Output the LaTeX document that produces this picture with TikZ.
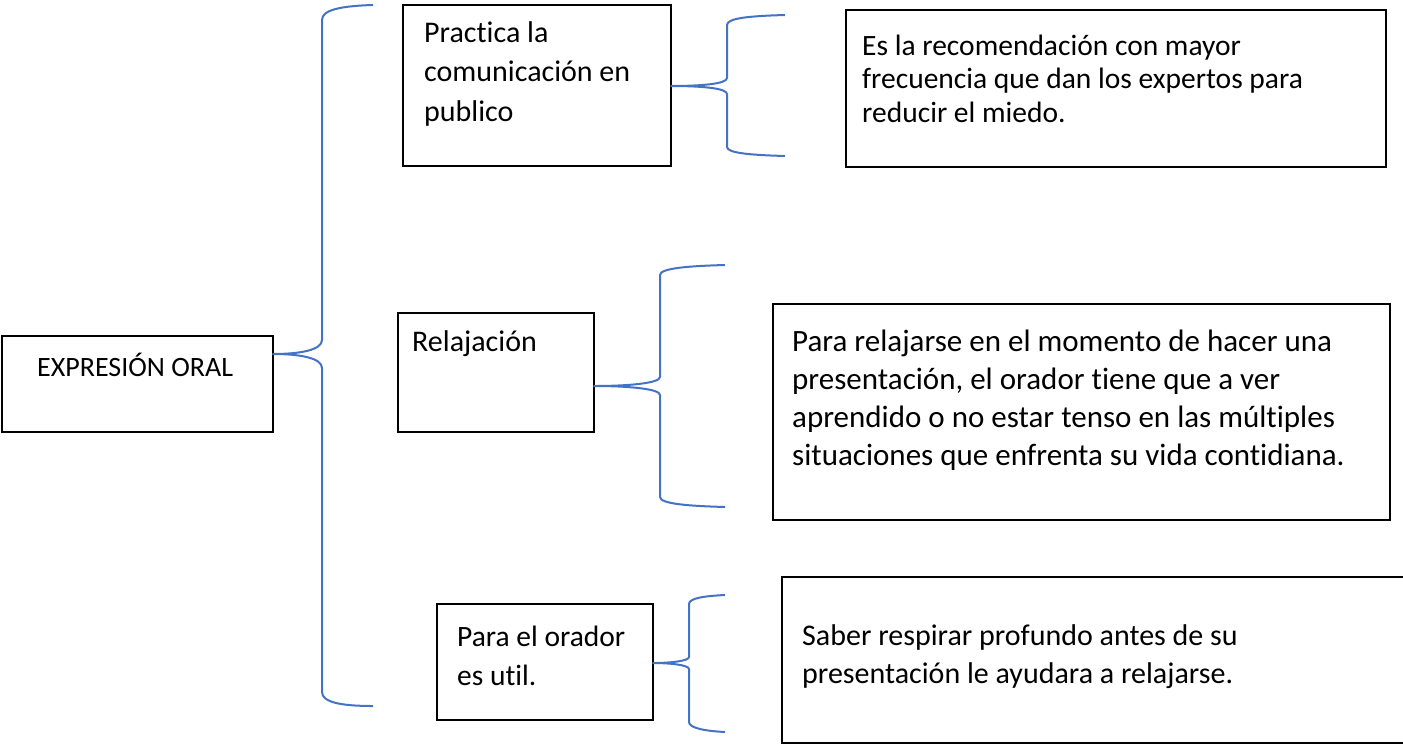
\documentclass[tikz,border=0pt]{standalone}
\usepackage{fontspec}
\setmainfont[Ligatures={NoCommon}]{Carlito}
\newcommand{\mylines}[3][29.5]{{\fontsize{#1}{#2}\selectfont\begin{tabular}[t]{@{}l@{}}#3\end{tabular}}}
\tikzset{
  box/.style={draw=black, line width=2pt, rectangle, inner sep=0pt},
  txt/.style={anchor=base west, inner sep=0pt, text=black},
  brace/.style={draw={rgb,255:red,68;green,114;blue,196}, line width=2pt, line join=round}
}
\begin{document}
\begin{tikzpicture}[x=1pt,y=-1pt]
\useasboundingbox (0,0) rectangle (1403,745);
\clip (0,0) rectangle (1403,745);
% boxes
\node[box, minimum width=271pt, minimum height=96pt] (b1) at (137.5,384) {};
\node[box, minimum width=268pt, minimum height=161pt] (b2) at (537,85.5) {};
\node[box, minimum width=540pt, minimum height=157pt] (b3) at (1116,88.5) {};
\node[box, minimum width=196pt, minimum height=119pt] (b4) at (496,372.5) {};
\node[box, minimum width=617pt, minimum height=216pt] (b5) at (1081.5,412) {};
\node[box, minimum width=216pt, minimum height=116pt] (b6) at (545,662) {};
\node[box, minimum width=628pt, minimum height=166pt] (b7) at (1096,660) {};
% texts
\node[txt] (l1) at (37,376) {\mylines[28]{39}{EXPRESIÓN ORAL}};
\node[txt] (l2) at (424,42) {\mylines[30]{39.5}{Practica la\\comunicación en\\publico}};
\node[txt] (l3) at (862,55) {\mylines{33.5}{Es la recomendación con mayor\\frecuencia que dan los expertos para\\reducir el miedo.}};
\node[txt] (l4) at (412,351) {\mylines[30]{39}{Relajación}};
\node[txt] (l5) at (792,351) {\mylines[31]{38.3}{Para relajarse en el momento de hacer una\\presentación, el orador tiene que a ver\\aprendido o no estar tenso en las múltiples\\situaciones que enfrenta su vida contidiana.}};
\node[txt] (l6) at (457,646) {\mylines{39}{Para el orador\\es util.}};
\node[txt] (l7) at (802,645) {\mylines[30]{38}{Saber respirar profundo antes de su\\presentación le ayudara a relajarse.}};
% brace end points
\coordinate (t1) at (273,354);
\coordinate (a1) at (373,5);
\coordinate (z1) at (373,706);
\coordinate (t2) at (671,86);
\coordinate (a2) at (785,15);
\coordinate (z2) at (785,156);
\coordinate (t3) at (594,386);
\coordinate (a3) at (725,265);
\coordinate (z3) at (725,507);
\coordinate (t4) at (653,663);
\coordinate (a4) at (725,595);
\coordinate (z4) at (725,732);
% braces
\draw[brace] (a1) .. controls (340,6) and (322,10) .. (322,20) -- (322,340)
  .. controls (322,350) and (300,354) .. (t1)
  .. controls (300,354) and (322,358) .. (322,368) -- (322,692)
  .. controls (322,702) and (340,706) .. (z1);
\draw[brace] (a2) .. controls (750,16) and (727,18) .. (727,25) -- (727,78)
  .. controls (727,84) and (700,86) .. (t2)
  .. controls (700,86) and (727,88) .. (727,94) -- (727,147)
  .. controls (727,153) and (750,155) .. (z2);
\draw[brace] (a3) .. controls (690,266) and (660,268) .. (660,275) -- (660,377)
  .. controls (660,383) and (630,386) .. (t3)
  .. controls (630,386) and (660,389) .. (660,395) -- (660,497)
  .. controls (660,504) and (690,506) .. (z3);
\draw[brace] (a4) .. controls (705,596) and (689,598) .. (689,604) -- (689,657)
  .. controls (689,661) and (670,663) .. (t4)
  .. controls (670,663) and (689,665) .. (689,669) -- (689,722)
  .. controls (689,728) and (705,731) .. (z4);
\end{tikzpicture}
\end{document}
